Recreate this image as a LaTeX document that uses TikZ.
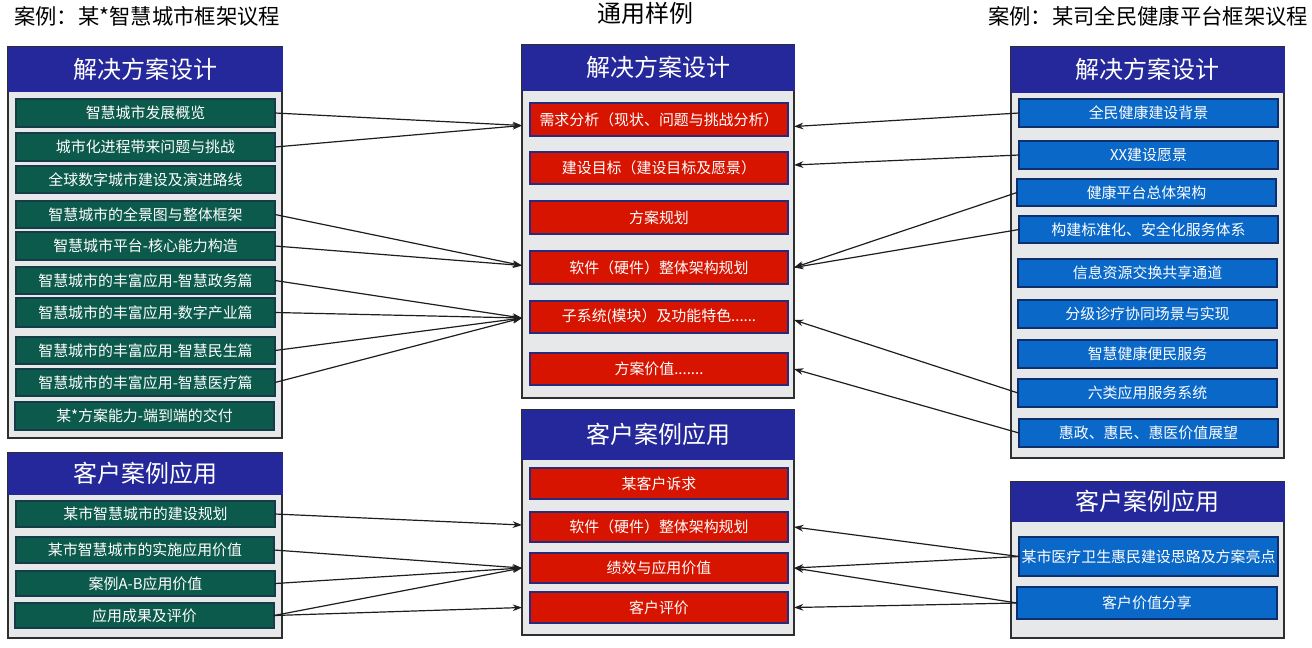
\documentclass[tikz,border=0pt]{standalone}
\usepackage{fontspec}
\setmainfont{Noto Sans CJK SC}
\usetikzlibrary{calc,arrows.meta}

\definecolor{hdrc}{HTML}{25289A}
\definecolor{bodyc}{HTML}{E7E8E9}
\definecolor{framec}{HTML}{2F2F2F}
\definecolor{greenc}{HTML}{0C5A4C}
\definecolor{greenb}{HTML}{163C4A}
\definecolor{redc}{HTML}{D61400}
\definecolor{redb}{HTML}{2A2A7A}
\definecolor{bluec}{HTML}{0A68C8}
\definecolor{blueb}{HTML}{0E2E6E}
\definecolor{linec}{HTML}{1E1E1E}

% box from corner (x1,y1) to corner (x2,y2) in pixel units
\newcommand\boxat[7]{%
  \pgfmathsetmacro\bw{(#4-#2)*0.75}%
  \pgfmathsetmacro\bh{(#5-#3)*0.75}%
  \node[#6, minimum width=\bw pt, minimum height=\bh pt] (#1) at ({(#2+#4)/2},{(#3+#5)/2}) {#7};%
}

\begin{document}
\begin{tikzpicture}[x=0.75pt,y=-0.75pt,
  panel/.style={draw=framec, line width=1pt, fill=bodyc, inner sep=0pt, outer sep=0pt},
  header/.style={fill=hdrc, draw=hdrc, line width=0.6pt, text=white, inner sep=0pt, outer sep=0pt,
    font=\fontsize{18}{22}\selectfont},
  itembox/.style={line width=0.8pt, text=white, inner sep=0pt, outer sep=0pt,
    font=\fontsize{11.2}{13}\selectfont},
  gitem/.style={itembox, fill=greenc, draw=greenb},
  ritem/.style={itembox, fill=redc, draw=redb},
  bitem/.style={itembox, fill=bluec, draw=blueb},
  caption/.style={inner sep=0pt, text=black, font=\fontsize{16}{20}\selectfont},
  conn/.style={draw=linec, line width=0.9pt, -{Stealth[length=7pt,width=5pt]}}
]
\useasboundingbox[fill=white] (0,0) rectangle (1312,647);

% captions
\node[caption, anchor=west] (t1) at (14,16) {案例：某*智慧城市框架议程};
\node[caption, font=\fontsize{18}{22}\selectfont] (t2) at (645,13) {通用样例};
\node[caption, anchor=west] (t3) at (988,16) {案例：某司全民健康平台框架议程};

% left: solution design
\boxat{lsd}{8}{47}{282}{438}{panel}{}
\boxat{lsdh}{8}{47}{282}{91}{header}{解决方案设计}
\boxat{l1}{16}{99}{275}{127}{gitem}{智慧城市发展概览}
\boxat{l2}{16}{133}{275}{161}{gitem}{城市化进程带来问题与挑战}
\boxat{l3}{16}{166}{275}{193}{gitem}{全球数字城市建设及演进路线}
\boxat{l4}{16}{201}{275}{228}{gitem}{智慧城市的全景图与整体框架}
\boxat{l5}{16}{232}{275}{260}{gitem}{智慧城市平台-核心能力构造}
\boxat{l6}{16}{267}{275}{294}{gitem}{智慧城市的丰富应用-智慧政务篇}
\boxat{l7}{16}{298}{275}{327}{gitem}{智慧城市的丰富应用-数字产业篇}
\boxat{l8}{16}{337}{275}{364}{gitem}{智慧城市的丰富应用-智慧民生篇}
\boxat{l9}{16}{369}{275}{396}{gitem}{智慧城市的丰富应用-智慧医疗篇}
\boxat{l10}{15}{402}{274}{430}{gitem}{某*方案能力-端到端的交付}

% left: customer cases
\boxat{lca}{8}{453}{282}{638}{panel}{}
\boxat{lcah}{8}{453}{282}{494}{header}{客户案例应用}
\boxat{lc1}{16}{501}{275}{527}{gitem}{某市智慧城市的建设规划}
\boxat{lc2}{16}{537}{274}{563}{gitem}{某市智慧城市的实施应用价值}
\boxat{lc3}{16}{571}{275}{596}{gitem}{案例A-B应用价值}
\boxat{lc4}{15}{603}{274}{628}{gitem}{应用成果及评价}

% middle: solution design
\boxat{msd}{522}{45}{794}{398}{panel}{}
\boxat{msdh}{522}{45}{794}{90}{header}{解决方案设计}
\boxat{m1}{530}{103}{788}{136}{ritem}{需求分析（现状、问题与挑战分析）}
\boxat{m2}{530}{152}{788}{184}{ritem}{建设目标（建设目标及愿景）}
\boxat{m3}{530}{201}{788}{234}{ritem}{方案规划}
\boxat{m4}{530}{251}{788}{284}{ritem}{软件（硬件）整体架构规划}
\boxat{m5}{530}{301}{788}{333}{ritem}{子系统(模块）及功能特色......}
\boxat{m6}{530}{353}{788}{385}{ritem}{方案价值.......}

% middle: customer cases
\boxat{mca}{522}{410}{794}{635}{panel}{}
\boxat{mcah}{522}{410}{794}{459}{header}{客户案例应用}
\boxat{c1}{530}{468}{788}{499}{ritem}{某客户诉求}
\boxat{c2}{530}{512}{788}{542}{ritem}{软件（硬件）整体架构规划}
\boxat{c3}{530}{553}{788}{583}{ritem}{绩效与应用价值}
\boxat{c4}{530}{592}{788}{623}{ritem}{客户评价}

% right: solution design
\boxat{rsd}{1011}{47}{1284}{458}{panel}{}
\boxat{rsdh}{1011}{47}{1284}{92}{header}{解决方案设计}
\boxat{r1}{1019}{99}{1278}{127}{bitem}{全民健康建设背景}
\boxat{r2}{1019}{141}{1278}{169}{bitem}{XX建设愿景}
\boxat{r3}{1017}{179}{1276}{206}{bitem}{健康平台总体架构}
\boxat{r4}{1019}{216}{1278}{243}{bitem}{构建标准化、安全化服务体系}
\boxat{r5}{1018}{259}{1277}{287}{bitem}{信息资源交换共享通道}
\boxat{r6}{1018}{300}{1277}{328}{bitem}{分级诊疗协同场景与实现}
\boxat{r7}{1018}{340}{1277}{368}{bitem}{智慧健康便民服务}
\boxat{r8}{1018}{379}{1277}{407}{bitem}{六类应用服务系统}
\boxat{r9}{1019}{419}{1278}{447}{bitem}{惠政、惠民、惠医价值展望}

% right: customer cases
\boxat{rca}{1011}{482}{1284}{638}{panel}{}
\boxat{rcah}{1011}{482}{1284}{521}{header}{客户案例应用}
\boxat{rc1}{1019}{537}{1278}{576}{bitem}{某市医疗卫生惠民建设思路及方案亮点}
\boxat{rc2}{1017}{587}{1277}{619}{bitem}{客户价值分享}

% connectors from the left case
\draw[conn] (l1.east) -- ($(msd.west |- m1)+(0,6)$);
\draw[conn] (l2.east) -- ($(msd.west |- m1)+(0,6)$);
\draw[conn] (l4.east) -- ($(msd.west |- m4)+(0,-2)$);
\draw[conn] (l5.east) -- ($(msd.west |- m4)+(0,-2)$);
\draw[conn] (l6.east) -- ($(msd.west |- m5)+(0,1)$);
\draw[conn] (l7.east) -- ($(msd.west |- m5)+(0,1)$);
\draw[conn] (l8.east) -- ($(msd.west |- m5)+(0,1)$);
\draw[conn] (l9.east) -- ($(msd.west |- m5)+(0,1)$);
\draw[conn] (lc1.east) -- ($(mca.west |- c2)+(0,-2)$);
\draw[conn] (lc2.east) -- (mca.west |- c3);
\draw[conn] (lc3.east) -- (mca.west |- c3);
\draw[conn] (lc4.east) -- (mca.west |- c3);
\draw[conn] (lc4.east) -- (mca.west |- c4);

% connectors from the right case
\draw[conn] (r1.west) -- ($(msd.east |- m1)+(0,7)$);
\draw[conn] (r2.west) -- ($(msd.east |- m2)+(0,-3)$);
\draw[conn] (r3.west) -- (msd.east |- m4);
\draw[conn] (r4.west) -- (msd.east |- m4);
\draw[conn] (r8.west) -- ($(msd.east |- m5)+(0,3)$);
\draw[conn] (r9.west) -- (msd.east |- m6);
\draw[conn] (rc1.west) -- (mca.east |- c2);
\draw[conn] (rc1.west) -- (mca.east |- c3);
\draw[conn] (rc2.west) -- (mca.east |- c3);
\draw[conn] (rc2.west) -- (mca.east |- c4);
\end{tikzpicture}
\end{document}
